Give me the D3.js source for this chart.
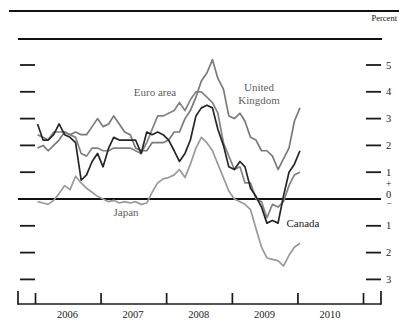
<!DOCTYPE html>
<html><head><meta charset="utf-8">
<script src="https://cdn.jsdelivr.net/npm/d3@7"></script>
<style>html,body{margin:0;padding:0;background:#fff;}svg{display:block;}</style>
</head><body>
<svg id="c" width="399" height="322"></svg>
<script>
// ---- data: monthly 12-month % change, Jan 2006 .. Jan 2010 ----
const startMonth = "2006-01";
const ukValues = [1.9,2.0,1.8,2.0,2.2,2.5,2.4,2.5,2.4,2.4,2.7,3.0,
  2.7,2.8,3.1,2.8,2.5,2.4,1.9,1.8,1.8,2.1,2.1,2.1,
  2.2,2.5,2.5,3.0,3.3,3.8,4.4,4.7,5.2,4.5,4.1,3.1,
  3.0,3.2,2.9,2.3,2.2,1.8,1.8,1.6,1.1,1.5,1.9,2.9,
  3.4];
const euroValues = [2.4,2.3,2.2,2.5,2.5,2.5,2.4,2.3,1.7,1.6,1.9,1.9,
  1.8,1.8,1.9,1.9,1.9,1.9,1.8,1.7,2.1,2.6,3.1,3.1,
  3.2,3.3,3.6,3.3,3.7,4.0,4.0,3.8,3.6,3.2,2.1,1.6,
  1.1,1.2,0.6,0.6,0.0,-0.1,-0.7,-0.2,-0.3,-0.1,0.5,0.9,
  1.0];
const canadaValues = [2.8,2.2,2.2,2.4,2.8,2.4,2.3,2.1,0.7,0.9,1.4,1.7,
  1.2,1.9,2.3,2.2,2.2,2.2,2.2,1.7,2.5,2.4,2.5,2.4,
  2.2,1.8,1.4,1.7,2.2,3.1,3.4,3.5,3.4,2.6,2.0,1.2,
  1.1,1.4,1.2,0.4,0.1,-0.3,-0.9,-0.8,-0.9,0.1,1.0,1.3,
  1.8];
const japanValues = [-0.1,-0.15,-0.2,-0.05,0.2,0.5,0.35,0.85,0.6,0.4,0.25,0.1,
  0.0,-0.1,-0.05,-0.15,-0.1,-0.15,-0.1,-0.2,-0.15,0.25,0.6,0.75,
  0.8,0.9,1.1,0.8,1.3,1.9,2.3,2.1,1.8,1.3,0.8,0.3,
  0.0,-0.1,-0.2,-0.4,-1.1,-1.8,-2.2,-2.25,-2.3,-2.5,-2.1,-1.8,
  -1.65];
const yearLabels = ["2006","2007","2008","2009","2010"];
const yTicks = [5,4,3,2,1,-1,-2,-3];
const seriesNames = ["United Kingdom","Euro area","Canada","Japan"];

// ---- scales ----
const svg = d3.select("#c");
const x = d3.scaleTime().domain([new Date(2006,0,1), new Date(2011,0,1)]).range([35,363]);
const y = d3.scaleLinear().domain([-3,5]).range([279.4,65]);
const xL = 18, xR = 381;
const monthDate = i => new Date(2006, i, 15);
const FF = "Liberation Serif";

// top rules
svg.append("line").attr("x1",9).attr("x2",399).attr("y1",11).attr("y2",11)
  .attr("stroke","#111").attr("stroke-width",2);
svg.append("line").attr("x1",18).attr("x2",382).attr("y1",39).attr("y2",39)
  .attr("stroke","#111").attr("stroke-width",2);
svg.append("text").attr("x",397).attr("y",21).attr("text-anchor","end")
  .attr("font-family",FF).attr("font-size",8.5).attr("fill","#111").text("Percent");

// y ticks (left and right dashes)
const tickG = svg.append("g");
yTicks.forEach(v=>{
  tickG.append("line").attr("x1",20).attr("x2",35).attr("y1",y(v)).attr("y2",y(v))
    .attr("stroke","#1a1a1a").attr("stroke-width",1.8);
  tickG.append("line").attr("x1",366).attr("x2",381).attr("y1",y(v)).attr("y2",y(v))
    .attr("stroke","#1a1a1a").attr("stroke-width",1.8);
  tickG.append("text").attr("x",386).attr("y",y(v)+3.5)
    .attr("font-family",FF).attr("font-size",10.5).attr("fill","#1a1a1a")
    .text(Math.abs(v));
});
tickG.append("text").attr("x",386).attr("y",y(0)-12).attr("font-family",FF)
  .attr("font-size",9.5).attr("fill","#1a1a1a").text("+");
tickG.append("text").attr("x",386).attr("y",y(0)-1).attr("font-family",FF)
  .attr("font-size",10.5).attr("fill","#1a1a1a").text("0");
tickG.append("text").attr("x",386.5).attr("y",y(0)+8).attr("font-family",FF)
  .attr("font-size",9.5).attr("fill","#1a1a1a").text("\u2212");

// zero line
svg.append("line").attr("x1",xL).attr("x2",xR).attr("y1",y(0)).attr("y2",y(0))
  .attr("stroke","#111").attr("stroke-width",1.8);

// bottom axis
const axisY = 304;
const xAxis = d3.axisBottom(x)
  .tickValues(d3.range(2006,2012).map(yr=>new Date(yr,0,1)))
  .tickSize(-11).tickFormat("");
const ax = svg.append("g").attr("transform",`translate(0,${axisY})`).call(xAxis);
ax.select(".domain").remove();
ax.selectAll(".tick line").attr("stroke","#1a1a1a").attr("stroke-width",1.7);
svg.append("line").attr("x1",xL).attr("x2",xR).attr("y1",axisY).attr("y2",axisY)
  .attr("stroke","#1a1a1a").attr("stroke-width",1.7);
[xL,xR].forEach(px=>svg.append("line").attr("x1",px).attr("x2",px)
  .attr("y1",axisY-13).attr("y2",axisY+0.8).attr("stroke","#1a1a1a").attr("stroke-width",1.7));
yearLabels.forEach(t=>{
  svg.append("text").attr("x",x(new Date(+t,6,1))).attr("y",318).attr("text-anchor","middle")
    .attr("font-family",FF).attr("font-size",10.5).attr("fill","#1a1a1a").text(t);
});

// lines
const line = d3.line().x((d,i)=>x(monthDate(i))).y(d=>y(d)).curve(d3.curveLinear);
const series = [
  {name:seriesNames[3], values:japanValues, color:"#9a9a9a", w:1.7},
  {name:seriesNames[1], values:euroValues, color:"#838383", w:1.7},
  {name:seriesNames[0], values:ukValues, color:"#7a7a7a", w:1.7},
  {name:seriesNames[2], values:canadaValues, color:"#262626", w:1.7}
];
svg.append("g").selectAll("path").data(series).join("path")
  .attr("d",d=>line(d.values)).attr("fill","none")
  .attr("stroke",d=>d.color).attr("stroke-width",d=>d.w).attr("stroke-linejoin","round");

// labels
const lab = (t,px,py,col)=>svg.append("text").attr("x",px).attr("y",py).attr("text-anchor","middle")
  .attr("font-family",FF).attr("font-size",11).attr("fill",col).text(t);
lab("Euro area",155,96,"#5e5e5e");
lab("United",259,91,"#5e5e5e");
lab("Kingdom",259,104,"#5e5e5e");
lab("Japan",126,216,"#5e5e5e");
lab("Canada",303,227,"#1a1a1a");
</script>
</body></html>
